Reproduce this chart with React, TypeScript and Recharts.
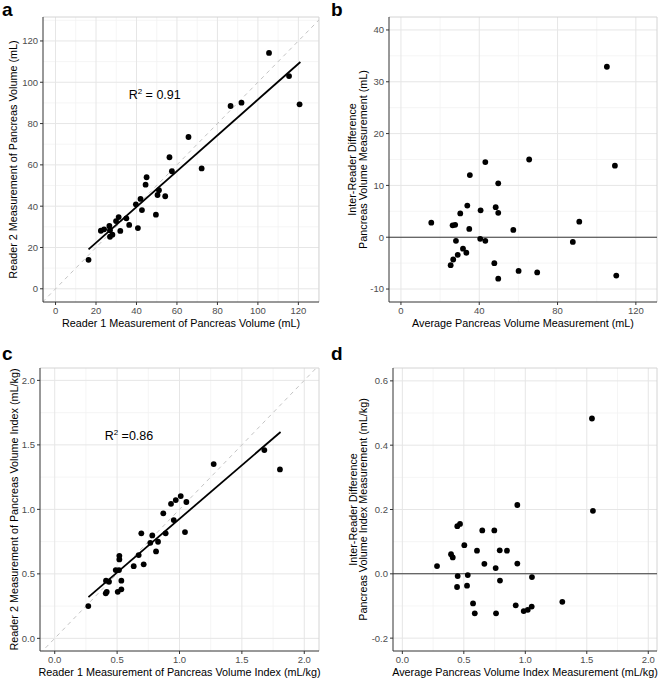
import { ScatterChart, Scatter, XAxis, YAxis, CartesianGrid, ReferenceLine, ReferenceDot } from 'recharts'

const FONT = '"Liberation Sans", Arial, Helvetica, sans-serif'
const TICK = { fill: '#4d4d4d', fontSize: 9.5, fontFamily: FONT }
const TITLE_SIZE = 10.8

// panel a: pancreas volume, reader 1 vs reader 2 (mL)
const volReader1 = [16.3, 22.4, 24.0, 26.6, 26.9, 26.9, 28.1, 29.9, 31.2, 32.0, 35.0, 36.4, 39.7, 40.7, 42.0, 42.7, 44.5, 45.0, 49.6, 50.4, 51.1, 54.2, 56.3, 57.5, 65.7, 72.2, 86.5, 91.9, 105.5, 115.4, 120.6]
const volReader2 = [14.0, 28.1, 28.8, 30.4, 28.4, 25.2, 26.2, 32.8, 34.7, 28.0, 34.1, 30.9, 40.9, 29.4, 43.5, 38.1, 50.4, 54.0, 35.9, 45.4, 47.7, 44.8, 63.7, 56.9, 73.5, 58.3, 88.5, 90.1, 114.2, 103.0, 89.3]
const volFitX = [16.3, 121.0]
const volFitY = [19.1, 109.8]

// panel b: Bland-Altman, volume (mL)
const volAverage = [15.5, 25.4, 26.4, 26.7, 27.7, 28.1, 29.0, 30.3, 31.7, 33.4, 33.9, 34.9, 35.2, 40.5, 40.7, 43.1, 43.1, 47.7, 48.4, 49.7, 49.7, 49.7, 57.4, 60.1, 65.5, 69.6, 87.8, 91.1, 105.2, 109.3, 110.0]
const volDiff = [2.8, -5.4, 2.3, -4.3, 2.4, -0.7, -3.4, 4.6, -2.2, -3.0, 6.1, 1.6, 12.0, -0.3, 5.2, -0.7, 14.5, -5.0, 5.8, 4.7, 10.4, -8.0, 1.4, -6.5, 15.0, -6.8, -0.9, 3.0, 32.9, 13.8, -7.4]

// panel c: volume index, reader 1 vs reader 2 (mL/kg)
const idxReader1 = [0.269, 0.409, 0.411, 0.417, 0.435, 0.489, 0.505, 0.515, 0.518, 0.518, 0.534, 0.534, 0.633, 0.673, 0.694, 0.713, 0.766, 0.782, 0.812, 0.828, 0.870, 0.889, 0.932, 0.954, 0.970, 1.010, 1.044, 1.055, 1.274, 1.680, 1.805]
const idxReader2 = [0.250, 0.349, 0.447, 0.361, 0.439, 0.529, 0.361, 0.529, 0.640, 0.612, 0.380, 0.447, 0.560, 0.646, 0.814, 0.574, 0.741, 0.798, 0.674, 0.749, 0.969, 0.814, 1.043, 0.917, 1.072, 1.103, 0.824, 1.057, 1.351, 1.460, 1.310]
const idxFitX = [0.27, 1.81]
const idxFitY = [0.32, 1.60]

// panel d: Bland-Altman, volume index (mL/kg)
const idxAverage = [0.282, 0.396, 0.410, 0.445, 0.447, 0.450, 0.469, 0.504, 0.526, 0.532, 0.575, 0.589, 0.607, 0.650, 0.667, 0.748, 0.759, 0.762, 0.792, 0.794, 0.851, 0.922, 0.935, 0.935, 0.987, 1.020, 1.052, 1.054, 1.301, 1.542, 1.550]
const idxDiff = [0.024, 0.061, 0.051, -0.041, 0.148, -0.007, 0.155, 0.089, -0.037, -0.004, -0.092, -0.123, 0.072, 0.135, 0.031, 0.135, 0.018, -0.123, 0.073, -0.021, 0.072, -0.098, 0.214, 0.032, -0.116, -0.112, -0.102, -0.010, -0.087, 0.483, 0.196]

const volTicks = [0, 20, 40, 60, 80, 100, 120]
const volMinor = [10, 30, 50, 70, 90, 110, 130]
const avgVolTicks = [0, 40, 80, 120]
const avgVolMinor = [20, 60, 100]
const diffVolTicks = [-10, 0, 10, 20, 30, 40]
const diffVolMinor = [-5, 5, 15, 25, 35]
const idxTicks = [0, 0.5, 1, 1.5, 2]
const idxMinor = [0.25, 0.75, 1.25, 1.75]
const diffIdxTicks = [-0.2, 0, 0.2, 0.4, 0.6]
const diffIdxMinor = [-0.1, 0.1, 0.3, 0.5]

const pairs = (xs: number[], ys: number[]) => xs.map((x, i) => ({ x, y: ys[i] }))

const Dot = (p: any) => <circle cx={p.cx} cy={p.cy} r={2.9} fill="#000" />

const yTitle = (lines: string[], cx: number) => (props: any) => {
  const vb = props.viewBox
  const cy = vb.y + vb.height / 2
  const lh = 10.4
  return (
    <text transform={`translate(${vb.x + cx},${cy}) rotate(-90)`} textAnchor="middle" fontSize={TITLE_SIZE} fontFamily={FONT} fill="#000">
      {lines.map((l, i) => (
        <tspan key={i} x={0} y={(i - (lines.length - 1) / 2) * lh + TITLE_SIZE * 0.36}>{l}</tspan>
      ))}
    </text>
  )
}

const xTitle = (text: string, dy: number) => (props: any) => {
  const vb = props.viewBox
  return (
    <text x={vb.x + vb.width / 2} y={vb.y + dy + TITLE_SIZE * 0.36} textAnchor="middle" fontSize={TITLE_SIZE} fontFamily={FONT} fill="#000">
      {text}
    </text>
  )
}

const r2Label = (value: string) => (props: any) => {
  const { x, y } = props.viewBox
  return (
    <text x={x} y={y + 4.5} textAnchor="middle" fontSize={12.5} fontFamily={FONT} fill="#000">
      R<tspan dy={-5} fontSize={8}>2</tspan><tspan dy={5}>{value}</tspan>
    </text>
  )
}

interface PanelProps {
  letter: string
  letterTop: number
  left: number
  top: number
  width: number
  height: number
  marginTop: number
  marginRight: number
  yAxisWidth: number
  xAxisHeight: number
  xDomain: [number, number]
  yDomain: [number, number]
  xTicks: number[]
  yTicks: number[]
  xMinor: number[]
  yMinor: number[]
  fmtX: (v: number) => string
  fmtY: (v: number) => string
  points: { x: number; y: number }[]
  fit?: { x: number; y: number }[]
  identity?: boolean
  zeroLine?: boolean
  xLabel: string
  yLabel: string[]
  yLabelX: number
  note?: { x: number; y: number; text: string }
}

function Panel(p: PanelProps) {
  const lo = Math.min(p.xDomain[0], p.yDomain[0])
  const hi = Math.max(p.xDomain[1], p.yDomain[1])
  return (
    <div style={{ position: 'absolute', left: p.left, top: p.top, width: p.width, height: p.height }}>
      <ScatterChart width={p.width} height={p.height} margin={{ top: p.marginTop, right: p.marginRight, left: 0, bottom: 0 }}>
        <CartesianGrid stroke="#f2f2f2" strokeWidth={0.8} verticalValues={p.xMinor} horizontalValues={p.yMinor} />
        <CartesianGrid stroke="#e6e6e6" verticalValues={p.xTicks} horizontalValues={p.yTicks} />
        <XAxis
          type="number"
          dataKey="x"
          domain={p.xDomain}
          ticks={p.xTicks}
          interval={0}
          allowDataOverflow
          tickFormatter={p.fmtX}
          height={p.xAxisHeight}
          tick={TICK}
          tickSize={3}
          tickMargin={2}
          axisLine={{ stroke: '#333' }}
          tickLine={{ stroke: '#333' }}
          label={xTitle(p.xLabel, 21)}
        />
        <YAxis
          type="number"
          dataKey="y"
          domain={p.yDomain}
          ticks={p.yTicks}
          interval={0}
          allowDataOverflow
          tickFormatter={p.fmtY}
          width={p.yAxisWidth}
          tick={TICK}
          tickSize={3}
          tickMargin={2}
          axisLine={{ stroke: '#333' }}
          tickLine={{ stroke: '#333' }}
          label={yTitle(p.yLabel, p.yLabelX)}
        />
        <ReferenceLine y={p.yDomain[1]} stroke="#d4d4d4" />
        <ReferenceLine x={p.xDomain[1]} stroke="#d4d4d4" />
        {p.identity && (
          <ReferenceLine
            segment={[{ x: lo, y: lo }, { x: hi, y: hi }]}
            ifOverflow="hidden"
            stroke="#c4c4c4"
            strokeDasharray="4 4"
          />
        )}
        {p.zeroLine && <ReferenceLine y={0} stroke="#3a3a3a" strokeWidth={1.1} />}
        <Scatter data={p.points} shape={Dot} isAnimationActive={false} />
        {p.fit && (
          <Scatter data={p.fit} line={{ stroke: '#000', strokeWidth: 1.8 }} shape={() => <g />} isAnimationActive={false} />
        )}
        {p.note && <ReferenceDot x={p.note.x} y={p.note.y} r={0} stroke="none" label={r2Label(p.note.text)} />}
      </ScatterChart>
      <div style={{ position: 'absolute', left: 2, top: p.letterTop, fontFamily: FONT, fontWeight: 700, fontSize: 19, lineHeight: '19px' }}>
        {p.letter}
      </div>
    </div>
  )
}

const int = (v: number) => String(v)
const one = (v: number) => v.toFixed(1)

export default function App() {
  return (
    <div style={{ position: 'absolute', left: 0, top: 0, width: 658, height: 678, background: '#fff', fontFamily: FONT }}>
      <Panel
        letter="a"
        letterTop={0}
        left={0}
        top={0}
        width={329}
        height={340}
        marginTop={17}
        marginRight={10}
        yAxisWidth={43}
        xAxisHeight={38}
        xDomain={[-6.2, 130.2]}
        yDomain={[-6.4, 131.6]}
        xTicks={volTicks}
        yTicks={volTicks}
        xMinor={volMinor}
        yMinor={volMinor}
        fmtX={int}
        fmtY={int}
        points={pairs(volReader1, volReader2)}
        fit={pairs(volFitX, volFitY)}
        identity
        xLabel="Reader 1 Measurement of Pancreas Volume (mL)"
        yLabel={['Reader 2 Measurement of Pancreas Volume (mL)']}
        yLabelX={12.7}
        note={{ x: 49, y: 94, text: ' = 0.91' }}
      />
      <Panel
        letter="b"
        letterTop={0}
        left={329}
        top={0}
        width={329}
        height={340}
        marginTop={17}
        marginRight={1}
        yAxisWidth={60}
        xAxisHeight={38}
        xDomain={[-6.1, 130.8]}
        yDomain={[-12.5, 42.5]}
        xTicks={avgVolTicks}
        yTicks={diffVolTicks}
        xMinor={avgVolMinor}
        yMinor={diffVolMinor}
        fmtX={int}
        fmtY={int}
        points={pairs(volAverage, volDiff)}
        zeroLine
        xLabel="Average Pancreas Volume Measurement (mL)"
        yLabel={['Inter-Reader Difference', 'Pancreas Volume Measurement (mL)']}
        yLabelX={28.5}
      />
      <Panel
        letter="c"
        letterTop={4}
        left={0}
        top={340}
        width={329}
        height={338}
        marginTop={28}
        marginRight={10}
        yAxisWidth={40}
        xAxisHeight={27}
        xDomain={[-0.118, 2.118]}
        yDomain={[-0.098, 2.096]}
        xTicks={idxTicks}
        yTicks={idxTicks}
        xMinor={idxMinor}
        yMinor={idxMinor}
        fmtX={one}
        fmtY={one}
        points={pairs(idxReader1, idxReader2)}
        fit={pairs(idxFitX, idxFitY)}
        identity
        xLabel="Reader 1 Measurement of Pancreas Volume Index (mL/kg)"
        yLabel={['Reader 2 Measurement of Pancreas Volume Index (mL/kg)']}
        yLabelX={14}
        note={{ x: 0.595, y: 1.576, text: ' =0.86' }}
      />
      <Panel
        letter="d"
        letterTop={4}
        left={329}
        top={340}
        width={329}
        height={338}
        marginTop={28}
        marginRight={1}
        yAxisWidth={64}
        xAxisHeight={27}
        xDomain={[-0.076, 2.071]}
        yDomain={[-0.24, 0.64]}
        xTicks={idxTicks}
        yTicks={diffIdxTicks}
        xMinor={idxMinor}
        yMinor={diffIdxMinor}
        fmtX={one}
        fmtY={one}
        points={pairs(idxAverage, idxDiff)}
        zeroLine
        xLabel="Average Pancreas Volume Index Measurement (mL/kg)"
        yLabel={['Inter-Reader Difference', 'Pancreas Volume Index Measurement (mL/kg)']}
        yLabelX={28.8}
      />
    </div>
  )
}
